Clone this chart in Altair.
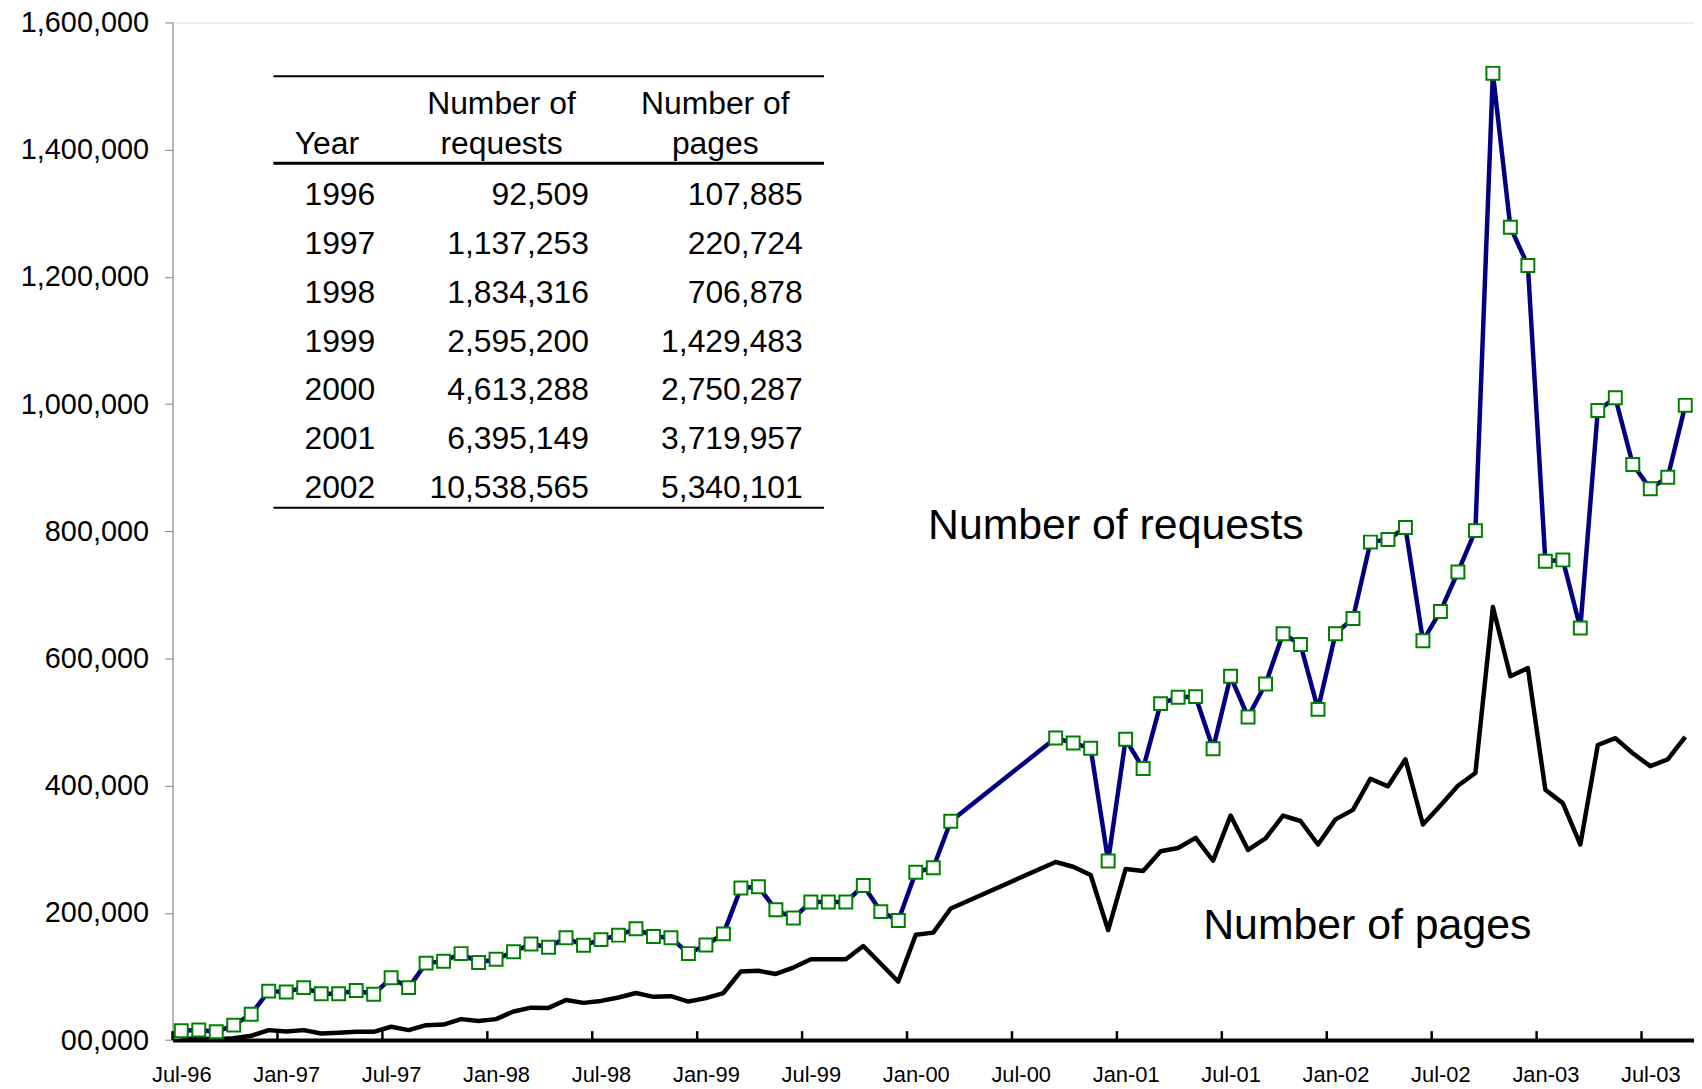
import altair as alt
import pandas as pd

# ---------------- data ----------------
months = [d.strftime("%b-%y") for d in pd.date_range("1996-07-01", "2003-09-01", freq="MS")]

requests = [
    14600, 16000, 13000, 23500, 40700, 77000,            # Jul-96 .. Dec-96
    75700, 82500, 73000, 73000, 78000, 72000,            # Jan-97 .. Jun-97
    98000, 82500, 121000, 124000, 136000, 122000,        # Jul-97 .. Dec-97
    127000, 139000, 151000, 146000, 161000, 149000,      # Jan-98 .. Jun-98
    158000, 165000, 175000, 163000, 161000, 136000,      # Jul-98 .. Dec-98
    149500, 167000, 239000, 241000, 205000, 192000,      # Jan-99 .. Jun-99
    217000, 217000, 217000, 243000, 202000, 188000,      # Jul-99 .. Dec-99
    264000, 271000, 344000, None, None, None,            # Jan-00 .. Jun-00
    None, None, 475000, 467000, 459000, 281500,          # Jul-00 .. Dec-00
    473000, 427000, 529000, 539000, 540000, 458000,      # Jan-01 .. Jun-01
    572000, 508000, 560000, 639000, 622000, 520000,      # Jul-01 .. Dec-01
    639000, 663000, 783000, 787000, 806000, 628000,      # Jan-02 .. Jun-02
    674000, 736000, 801000, 1520000, 1278000, 1218000,   # Jul-02 .. Dec-02
    753000, 755000, 648000, 990000, 1010000, 905000,     # Jan-03 .. Jun-03
    867000, 885000, 998000,                              # Jul-03 .. Sep-03
]

pages = [
    2000, 2000, 1500, 3000, 6800, 15700,
    13600, 15700, 10400, 11500, 13000, 13000,
    21000, 15700, 23500, 24500, 33000, 30000,
    33000, 45000, 51000, 50600, 63000, 58500,
    61600, 67000, 74000, 68000, 69000, 60600,
    66000, 74000, 108000, 109000, 104000, 114000,
    127000, 127000, 127000, 148000, 120000, 92000,
    165500, 169000, 207000, None, None, None,
    None, None, 280000, 272600, 259500, 173000,
    269000, 266000, 297000, 302000, 318000, 282000,
    353000, 299000, 317000, 353000, 344500, 307500,
    347000, 362000, 411000, 399000, 441500, 339000,
    369000, 400000, 420000, 681000, 572000, 585000,
    393600, 372600, 307500, 464000, 474700, 451000,
    430700, 441500, 476600,
]

x_labels = ["Jul-96", "Jan-97", "Jul-97", "Jan-98", "Jul-98", "Jan-99", "Jul-99", "Jan-00",
            "Jul-00", "Jan-01", "Jul-01", "Jan-02", "Jul-02", "Jan-03", "Jul-03"]
y_ticks = [0, 200000, 400000, 600000, 800000, 1000000, 1200000, 1400000, 1600000]

table_years = ["1996", "1997", "1998", "1999", "2000", "2001", "2002"]
table_requests = [92509, 1137253, 1834316, 2595200, 4613288, 6395149, 10538565]
table_pages = [107885, 220724, 706878, 1429483, 2750287, 3719957, 5340101]

# ---------------- frames ----------------
df = pd.DataFrame({"idx": range(len(months)), "month": months,
                   "requests": requests, "pages": pages})
df_req = df.dropna(subset=["requests"])
df_pag = df.dropna(subset=["pages"])

tick_df = pd.DataFrame({"tick": [6 * k - 0.5 for k in range(len(x_labels))]})
tab_df = pd.DataFrame({"row": range(len(table_years)), "year": table_years,
                       "req": table_requests, "pag": table_pages})

# ---------------- layout ----------------
W, H = 1528.6, 1022.4
FONT = "Liberation Sans"
TFONT = "Liberation Sans"
TFS = 32  # table font size

label_js = "[" + ",".join("'%s'" % s for s in x_labels) + "]"

x_enc = alt.X("idx:Q",
              scale=alt.Scale(domain=[-0.5, len(months) - 0.5], nice=False, zero=False),
              axis=alt.Axis(values=[6 * k for k in range(len(x_labels))],
                            labelExpr=label_js + "[round(datum.value / 6)]",
                            ticks=False, tickSize=0, grid=False, title=None,
                            domainColor="black", domainWidth=4,
                            labelFont=FONT, labelFontSize=22, labelColor="black",
                            labelPadding=42, labelBaseline="alphabetic",
                            labelFlush=False, labelOverlap=False, labelBound=False))

y_scale = alt.Scale(domain=[0, 1600000], nice=False, zero=True)
y_axis = alt.Axis(values=y_ticks,
                  labelExpr="datum.value == 0 ? '00,000' : format(datum.value, ',')",
                  grid=False, title=None, domainColor="#808080", domainWidth=1,
                  tickColor="#808080", tickSize=8, tickWidth=1,
                  labelFont=FONT, labelFontSize=29, labelColor="black", labelPadding=16,
                  labelFlush=False, labelOverlap=False, labelBound=False)

pages_line = alt.Chart(df_pag).mark_line(color="black", strokeWidth=4.5, strokeJoin="round").encode(
    x=x_enc, y=alt.Y("pages:Q", scale=y_scale, axis=y_axis))
req_line = alt.Chart(df_req).mark_line(color="#000080", strokeWidth=4.5, strokeJoin="round").encode(
    x=alt.X("idx:Q"), y=alt.Y("requests:Q", scale=y_scale))
req_pts = alt.Chart(df_req).mark_square(size=169, fill="white", stroke="#008000",
                                         strokeWidth=2, opacity=1).encode(
    x=alt.X("idx:Q"), y=alt.Y("requests:Q", scale=y_scale))

x_ticks = alt.Chart(tick_df).mark_rule(color="black", strokeWidth=2.5).encode(
    x=alt.X("tick:Q"), y=alt.value(H - 9), y2=alt.value(H))

main = alt.layer(pages_line, req_line, req_pts, x_ticks)

# annotations
ann = pd.DataFrame({"t": ["Number of requests"]})
ann2 = pd.DataFrame({"t": ["Number of pages"]})
ann_req = alt.Chart(ann).mark_text(font=FONT, fontSize=43, align="left", baseline="alphabetic",
                                   color="black").encode(text="t:N", x=alt.value(759), y=alt.value(519))
ann_pag = alt.Chart(ann2).mark_text(font=FONT, fontSize=43, align="left", baseline="alphabetic",
                                    color="black").encode(text="t:N", x=alt.value(1035.5), y=alt.value(920.5))

# table
row_y = alt.Y("row:Q", scale=alt.Scale(domain=[0, len(table_years) - 1],
                                        range=[183.6, 183.6 + 49.0 * (len(table_years) - 1)]),
              axis=None)
tab_base = alt.Chart(tab_df)
t_year = tab_base.mark_text(font=TFONT, fontSize=TFS, align="center", baseline="alphabetic",
                            color="black").encode(text="year:N", x=alt.value(168.1), y=row_y)
t_req = tab_base.mark_text(font=TFONT, fontSize=TFS, align="right", baseline="alphabetic",
                           color="black").encode(text=alt.Text("req:Q", format=","),
                                                 x=alt.value(418.3), y=row_y)
t_pag = tab_base.mark_text(font=TFONT, fontSize=TFS, align="right", baseline="alphabetic",
                           color="black").encode(text=alt.Text("pag:Q", format=","),
                                                 x=alt.value(633.2), y=row_y)

hdr = pd.DataFrame({"t": ["Year", "Number of", "requests", "Number of", "pages"],
                    "hx": [155.1, 330.5, 330.5, 545.3, 545.3],
                    "hy": [132.5, 91.5, 132.5, 91.5, 132.5]})
hdr_layers = []
for _, r in hdr.iterrows():
    hdr_layers.append(
        alt.Chart(pd.DataFrame({"t": [r["t"]]})).mark_text(
            font=TFONT, fontSize=TFS, align="center", baseline="alphabetic", color="black"
        ).encode(text="t:N", x=alt.value(float(r["hx"])), y=alt.value(float(r["hy"]))))

rule_src = pd.DataFrame({"k": [0]})
rules = [
    alt.Chart(rule_src).mark_rule(color="black", strokeWidth=sw).encode(
        x=alt.value(101.3), x2=alt.value(654.5), y=alt.value(yy))
    for yy, sw in [(54, 2), (141.5, 3), (487.5, 2)]
]

chart = alt.layer(main, ann_req, ann_pag, t_year, t_req, t_pag, *hdr_layers, *rules).resolve_scale(
    y="independent"
).properties(
    width=W, height=H,
    padding={"left": 165.3, "top": 12, "right": 0, "bottom": 46.6},
    autosize=alt.AutoSizeParams(type="none"),
).configure_view(stroke=None).configure(background="white")

chart.save("out.html", embed_options={"renderer": "svg", "actions": False})
